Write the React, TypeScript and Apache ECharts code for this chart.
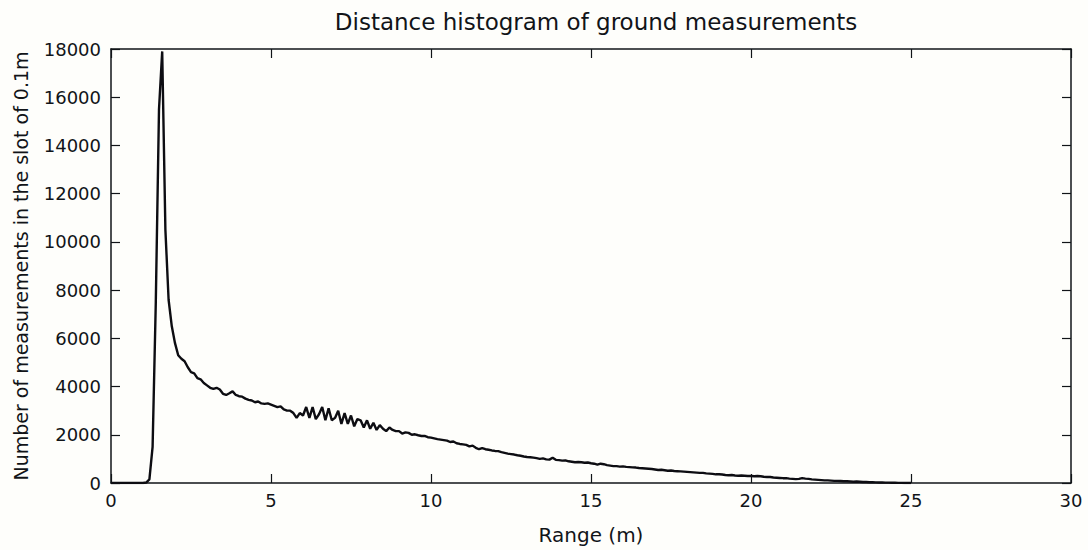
import React, { useEffect, useRef } from "react";
import * as echarts from "echarts";

const titleText = "Distance histogram of ground measurements";
const xAxisName = "Range (m)";
const yAxisName = "Number of measurements in the slot of 0.1m";
const binStart = 0;
const binWidth = 0.1;
// counts per 0.1 m slot, starting at 0 m
const counts = [
  0, 0, 0, 0, 0, 0, 0, 0, 0, 0,
  0, 20, 150, 1500, 7500, 15500, 17900, 10500, 7600, 6500,
  5800, 5300, 5150, 5050, 4800, 4600, 4550, 4350, 4300, 4150,
  4050, 3950, 3900, 3950, 3880, 3700, 3650, 3720, 3800, 3650,
  3600, 3580, 3500, 3450, 3420, 3350, 3380, 3300, 3280, 3300,
  3250, 3200, 3150, 3180, 3050, 3000, 3000, 2900, 2700, 2900,
  2800, 3150, 2700, 3150, 2650, 2850, 3150, 2600, 3100, 2600,
  2700, 3000, 2450, 2900, 2450, 2800, 2350, 2650, 2600, 2300,
  2600, 2250, 2500, 2200, 2400, 2250, 2150, 2300, 2200, 2150,
  2150, 2050, 2100, 2080, 2000, 2020, 1980, 1950, 1950, 1900,
  1880, 1850, 1820, 1800, 1780, 1760, 1700, 1720, 1650, 1620,
  1600, 1580, 1520, 1550, 1460, 1400, 1450, 1400, 1380, 1350,
  1330, 1320, 1280, 1250, 1220, 1200, 1180, 1150, 1130, 1100,
  1080, 1070, 1050, 1030, 1000, 1020, 980, 970, 1050, 960,
  950, 930, 940, 900, 880, 860, 870, 860, 840, 850,
  820, 800, 760, 800, 780, 740, 720, 700, 700, 680,
  690, 670, 660, 650, 640, 620, 610, 600, 590, 580,
  560, 540, 550, 530, 510, 520, 500, 490, 480, 470,
  460, 450, 440, 430, 420, 420, 400, 390, 380, 360,
  360, 350, 330, 320, 330, 310, 300, 310, 300, 290,
  290, 280, 290, 280, 260, 250, 250, 230, 220, 210,
  200, 200, 180, 170, 160, 170, 200, 180, 170, 150,
  140, 130, 120, 110, 110, 100, 90, 90, 80, 70,
  70, 60, 50, 60, 50, 40, 40, 30, 30, 25,
  20, 20, 15, 15, 10, 10, 5, 5, 0, 0,
  0,
];

const FONT = "DejaVu Sans, Liberation Sans, sans-serif";
const INK = "#111418";

export default function App() {
  const ref = useRef<HTMLDivElement>(null);
  useEffect(() => {
    if (!ref.current) return;
    const chart = echarts.init(ref.current, null, { renderer: "svg" });
    const data = counts.map((v, i) => [+(binStart + i * binWidth).toFixed(1), v]);
    const axisCommon = {
      axisLine: { show: true, onZero: false, lineStyle: { color: INK, width: 1.5 } },
      axisTick: { show: true, inside: true, length: 9, lineStyle: { color: INK, width: 1.2 } },
      splitLine: { show: false },
    };
    const plain = (v: number) => String(v);
    chart.setOption({
      animation: false,
      backgroundColor: "#fefefb",
      title: {
        text: titleText,
        left: 591,
        textAlign: "center",
        top: 5,
        textStyle: { fontFamily: FONT, fontSize: 23, fontWeight: "normal", color: INK },
      },
      grid: { left: 111, right: 17, top: 49, bottom: 64, containLabel: false },
      xAxis: [
        {
          type: "value",
          min: 0,
          max: 30,
          interval: 5,
          position: "bottom",
          name: xAxisName,
          nameLocation: "middle",
          nameGap: 42,
          nameTextStyle: { fontFamily: FONT, fontSize: 20, color: INK },
          axisLabel: { fontFamily: FONT, fontSize: 18, color: INK, margin: 8, formatter: plain },
          ...axisCommon,
        },
        {
          type: "value",
          min: 0,
          max: 30,
          interval: 5,
          position: "top",
          axisLabel: { show: false },
          ...axisCommon,
        },
      ],
      yAxis: [
        {
          type: "value",
          min: 0,
          max: 18000,
          interval: 2000,
          position: "left",
          name: yAxisName,
          nameLocation: "middle",
          nameGap: 81,
          nameTextStyle: { fontFamily: FONT, fontSize: 19, color: INK },
          axisLabel: { fontFamily: FONT, fontSize: 18, color: INK, margin: 10, formatter: plain },
          ...axisCommon,
        },
        {
          type: "value",
          min: 0,
          max: 18000,
          interval: 2000,
          position: "right",
          axisLabel: { show: false },
          ...axisCommon,
        },
      ],
      series: [
        {
          type: "line",
          data,
          xAxisIndex: 0,
          yAxisIndex: 0,
          showSymbol: false,
          symbol: "none",
          lineStyle: { color: "#0d0d12", width: 2.4 },
        },
      ],
    });
    return () => chart.dispose();
  }, []);
  return (
    <div
      ref={ref}
      style={{ position: "fixed", left: 0, top: 0, width: 1088, height: 550 }}
    />
  );
}
